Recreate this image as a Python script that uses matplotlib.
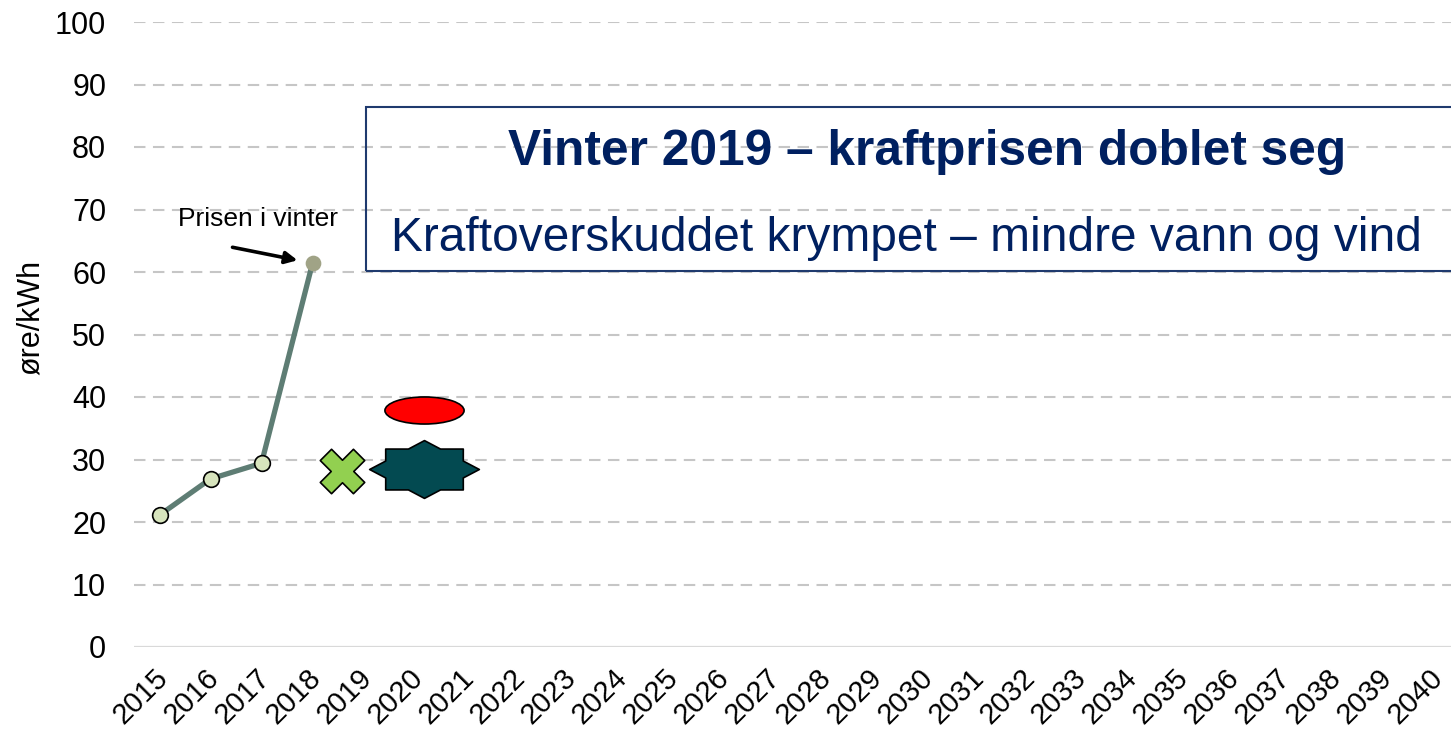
import matplotlib.pyplot as plt
import matplotlib.transforms as mtransforms
from matplotlib.path import Path
from matplotlib.patches import Rectangle
import numpy as np

plt.rcParams['font.family'] = ['Liberation Sans', 'DejaVu Sans']

# data
years = [str(y) for y in range(2015, 2041)]
price_years = [2015, 2016, 2017, 2018]
price = [21.1, 26.9, 29.4, 61.4]
cross_pos = (2018.57, 28.2)     # green "x"
star_pos = (2020.18, 28.5)      # dark star
ellipse_pos = (2020.18, 37.9)   # red ellipse
yticks = list(range(0, 101, 10))

title = 'Vinter 2019 \u2013 kraftprisen doblet seg'
subtitle = 'Kraftoverskuddet krympet \u2013 mindre vann og vind'
navy = '#002060'

W, H = 1451, 736
fig = plt.figure(figsize=(W / 100, H / 100), dpi=100)
ax = fig.add_axes([134 / W, 1 - 647 / H, (W - 134) / W, (647 - 22) / H])

def idx(year):
    return year - 2015

# grid + zero line
for v in yticks[1:]:
    ax.axhline(v, color='#C6C6C6', lw=1.5, ls=(0, (5.5, 3.6)), zorder=0)
ax.axhline(0, color='#D9D9D9', lw=1.6, zorder=0)

# price line
xs = [idx(y) for y in price_years]
ax.plot(xs, price, color='#5E7D74', lw=3.8, zorder=2)
ax.plot(xs[:-1], price[:-1], 'o', ms=11.3, mfc='#D7E4BD', mec='black', mew=1.2, zorder=3)
ax.plot(xs[-1:], price[-1:], 'o', ms=11.3, mfc='#A0A386', mec='none', zorder=3)

# shapes as custom markers
def star8(inner=0.765, sy=0.527):
    ang = np.arange(16) * np.pi / 8
    r = np.where(np.arange(16) % 2 == 0, 1.0, inner)
    v = np.column_stack([r * np.cos(ang), r * np.sin(ang) * sy])
    v = np.vstack([v, v[:1]])
    codes = [Path.MOVETO] + [Path.LINETO] * 15 + [Path.CLOSEPOLY]
    return Path(v, codes)

def cross(a=0.34):
    pts = [(1, a), (a, a), (a, 1), (-a, 1), (-a, a), (-1, a), (-1, -a), (-a, -a),
           (-a, -1), (a, -1), (a, -a), (1, -a), (1, a)]
    p = Path(pts, [Path.MOVETO] + [Path.LINETO] * 11 + [Path.CLOSEPOLY])
    return mtransforms.Affine2D().rotate_deg(45).transform_path(p)

ellipse = mtransforms.Affine2D().scale(1, 0.342).transform_path(Path.unit_circle())

ax.plot(idx(cross_pos[0]), cross_pos[1], marker=cross(), ms=32, mfc='#92D050',
        mec='black', mew=1.2, ls='none', zorder=4)
ax.plot(idx(star_pos[0]), star_pos[1], marker=star8(), ms=79, mfc='#034A51',
        mec='black', mew=1.2, ls='none', zorder=4)
ax.plot(idx(ellipse_pos[0]), ellipse_pos[1], marker=ellipse, ms=57, mfc='#FF0000',
        mec='black', mew=1.2, ls='none', zorder=4)

# annotation
ax.annotate('', xy=(xs[-1], price[-1]), xytext=(-57.6, 11.5), textcoords='offset points',
            arrowprops=dict(arrowstyle='-|>', color='black', lw=2.6, mutation_scale=18,
                            shrinkA=0, shrinkB=11))
ax.annotate('Prisen i vinter', xy=(xs[-1], price[-1]), xytext=(-39.6, 26.6),
            textcoords='offset points', ha='center', va='baseline', fontsize=19)

ax.set_xlim(-0.5, -0.5 + (W - 134) / 51)
ax.set_ylim(0, 100)
ax.set_yticks(yticks)
ax.set_xticks(range(len(years)))
ax.set_xticklabels([])
ax.tick_params(axis='x', length=0)
ax.tick_params(axis='y', length=0, pad=20, labelsize=22)
for s in ax.spines.values():
    s.set_visible(False)

# rotated year labels, anchored top-right just under each category
lab_tr = ax.get_xaxis_transform() + mtransforms.ScaledTranslation(-6 / 100, -17 / 100, fig.dpi_scale_trans)
for i, y in enumerate(years):
    ax.text(i, 0, y, transform=lab_tr, rotation=45, ha='right', va='top',
            rotation_mode='anchor', fontsize=21, clip_on=False)

fig.text(31 / W, 1 - 317 / H, '\u00f8re/kWh', rotation=90, ha='center', va='center', fontsize=22)

# text box
fig.add_artist(Rectangle((366 / W, 1 - 271 / H), 1.2, (271 - 107) / H, transform=fig.transFigure,
                         fill=False, ec='#1F3A6E', lw=1.5, clip_on=False))
fig.text(927 / W, 1 - 165 / H, title, ha='center', va='baseline', fontsize=35.7,
         fontweight='bold', color=navy)
fig.text(906 / W, 1 - 251 / H, subtitle, ha='center', va='baseline', fontsize=34.5, color=navy)

fig.savefig('out.png', dpi=100)
